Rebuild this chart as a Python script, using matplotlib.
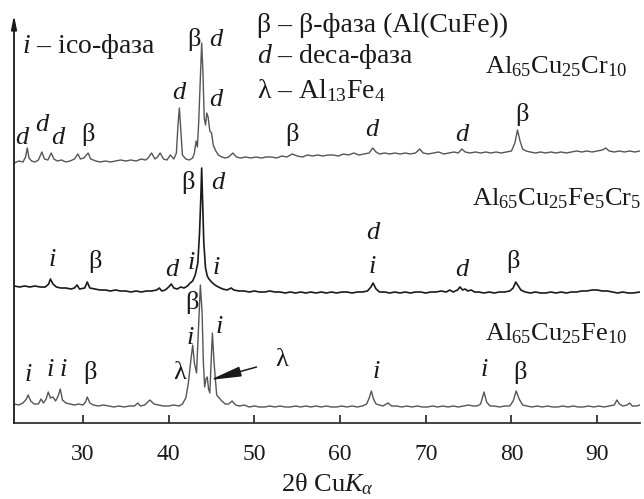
import numpy as np
import matplotlib
matplotlib.use("Agg")
import matplotlib.pyplot as plt

cr10_tt = [22.0, 22.5, 23.0, 23.3, 23.5, 23.7, 24.0, 24.4, 24.8, 25.2, 25.5, 25.9, 26.3, 26.6, 27.0,
           27.5, 28.0, 28.5, 29.0, 29.4, 29.7, 30.1, 30.6, 30.9, 31.5, 32.0, 32.6, 33.2, 33.8, 34.4,
           35.0, 35.6, 36.2, 36.8, 37.3, 37.6, 38.0, 38.4, 38.7, 39.0, 39.4, 39.8, 40.2, 40.6, 40.9,
           41.1, 41.25, 41.4, 41.6, 42.0, 42.4, 42.8, 43.0, 43.2, 43.35, 43.5, 43.7, 43.85, 44.0, 44.15,
           44.3, 44.45, 44.6, 44.8, 45.0, 45.2, 45.5, 45.8, 46.2, 46.6, 47.0, 47.5, 47.9, 48.4, 49.0,
           49.6, 50.2, 50.8, 51.4, 52.0, 52.6, 53.2, 53.8, 54.4, 55.0, 55.6, 56.2, 56.8, 57.4, 58.0,
           58.6, 59.2, 59.8, 60.4, 61.0, 61.6, 62.2, 62.8, 63.4, 63.8, 64.2, 64.6, 65.2, 65.8, 66.4,
           67.0, 67.6, 68.2, 68.8, 69.3, 69.7, 70.3, 70.9, 71.5, 72.1, 72.7, 73.3, 73.8, 74.2, 74.6,
           75.2, 75.8, 76.4, 77.0, 77.6, 78.2, 78.8, 79.4, 80.0, 80.4, 80.7, 81.0, 81.3, 81.7, 82.2,
           82.8, 83.4, 84.0, 84.6, 85.2, 85.8, 86.4, 87.0, 87.6, 88.2, 88.8, 89.4, 90.0, 90.6, 91.0,
           91.4, 92.0, 92.6, 93.2, 93.8, 94.4, 95.0]
cr10_int = [260, 262, 261, 266, 275, 265, 262, 261, 263, 271, 264, 263, 270, 264, 262,
            263, 261, 262, 264, 269, 264, 265, 270, 264, 262, 261, 262, 261, 262, 263,
            262, 263, 262, 264, 263, 265, 270, 264, 266, 270, 264, 263, 268, 264, 270,
            300, 315, 295, 268, 264, 263, 265, 270, 282, 276, 300, 345, 380, 350, 305,
            298, 310, 306, 292, 290, 278, 272, 268, 266, 265, 266, 270, 266, 265, 266,
            265, 266, 265, 266, 266, 265, 267, 266, 269, 267, 266, 268, 267, 268, 267,
            268, 268, 267, 269, 268, 270, 268, 269, 270, 275, 271, 269, 270, 269, 270,
            269, 270, 269, 270, 274, 270, 269, 270, 271, 269, 270, 271, 270, 274, 271,
            270, 271, 270, 271, 270, 271, 270, 271, 272, 280, 293, 282, 274, 272, 271,
            270, 271, 270, 271, 270, 271, 270, 271, 272, 271, 272, 271, 272, 273, 275,
            272, 271, 272, 271, 272, 271, 272]

fe5cr5_tt = [22.0, 22.6, 23.2, 23.8, 24.4, 25.0, 25.6, 26.0, 26.2, 26.5, 26.9, 27.4, 28.0, 28.6, 29.0,
             29.3, 29.6, 30.2, 30.5, 30.8, 31.4, 32.0, 32.6, 33.2, 33.8, 34.4, 35.0, 35.6, 36.2, 36.8,
             37.4, 38.0, 38.6, 38.9, 39.2, 39.6, 40.0, 40.3, 40.6, 41.0, 41.4, 41.8, 42.2, 42.5, 42.8,
             43.1, 43.4, 43.6, 43.75, 43.85, 43.95, 44.1, 44.3, 44.5, 44.7, 45.0, 45.4, 45.8, 46.3, 46.8,
             47.3, 47.6, 48.2, 48.8, 49.4, 50.0, 50.6, 51.2, 51.8, 52.4, 53.0, 53.6, 54.2, 54.8, 55.4,
             56.0, 56.6, 57.2, 57.8, 58.4, 59.0, 59.6, 60.2, 60.8, 61.4, 62.0, 62.6, 63.2, 63.6, 63.85,
             64.2, 64.6, 65.2, 65.8, 66.4, 67.0, 67.6, 68.2, 68.8, 69.4, 70.0, 70.6, 71.2, 71.8, 72.4,
             72.8, 73.2, 73.7, 74.0, 74.3, 74.6, 74.9, 75.3, 75.7, 76.2, 76.8, 77.4, 78.0, 78.6, 79.2,
             79.8, 80.2, 80.5, 80.8, 81.1, 81.6, 82.2, 82.8, 83.4, 84.0, 84.6, 85.2, 85.8, 86.4, 87.0,
             87.6, 88.2, 88.8, 89.4, 90.0, 90.6, 91.2, 91.8, 92.4, 93.0, 93.6, 94.2, 95.0]
fe5cr5_int = [137, 136, 137, 136, 137, 136, 136, 139, 144, 139, 136, 135, 135, 134, 135,
              138, 134, 135, 141, 135, 134, 133, 133, 132, 133, 132, 132, 131, 132, 131,
              132, 132, 133, 135, 132, 133, 136, 139, 135, 134, 136, 135, 137, 140, 142,
              148, 160, 190, 225, 255, 225, 180, 155, 147, 144, 141, 138, 136, 134, 133,
              135, 133, 132, 132, 131, 132, 131, 131, 132, 131, 131, 130, 131, 130, 131,
              130, 131, 130, 131, 130, 131, 130, 131, 131, 130, 131, 131, 132, 136, 140,
              134, 131, 131, 130, 131, 130, 131, 130, 131, 131, 130, 131, 131, 132, 131,
              133, 131, 133, 136, 133, 134, 132, 133, 131, 131, 130, 131, 130, 131, 131,
              132, 135, 141, 137, 133, 131, 130, 131, 130, 130, 131, 130, 131, 130, 131,
              131, 132, 132, 133, 133, 132, 132, 131, 130, 131, 130, 130, 131]

fe10_tt = [22.0, 22.5, 23.0, 23.4, 23.6, 23.9, 24.3, 24.8, 25.1, 25.4, 25.7, 25.95, 26.2, 26.5, 26.8,
           27.1, 27.35, 27.6, 28.0, 28.5, 29.0, 29.5, 30.0, 30.3, 30.5, 30.8, 31.2, 31.8, 32.4, 33.0,
           33.6, 34.2, 34.8, 35.4, 36.0, 36.4, 36.7, 37.2, 37.8, 38.3, 38.8, 39.4, 40.0, 40.6, 41.2,
           41.6, 42.0, 42.3, 42.55, 42.8, 43.0, 43.25, 43.45, 43.7, 43.9, 44.05, 44.2, 44.35, 44.5, 44.65,
           44.8, 44.95, 45.1, 45.3, 45.6, 45.9, 46.2, 46.6, 47.0, 47.4, 47.8, 48.3, 48.8, 49.4, 50.0,
           50.6, 51.2, 51.8, 52.4, 53.0, 53.6, 54.2, 54.8, 55.4, 56.0, 56.6, 57.2, 57.8, 58.4, 59.0,
           59.6, 60.2, 60.8, 61.4, 62.0, 62.6, 63.1, 63.4, 63.65, 63.9, 64.2, 64.6, 65.0, 65.6, 66.0,
           66.6, 67.2, 67.8, 68.4, 69.0, 69.6, 70.2, 70.8, 71.4, 72.0, 72.6, 73.2, 73.8, 74.4, 75.0,
           75.5, 76.0, 76.4, 76.8, 77.1, 77.5, 78.0, 78.6, 79.2, 79.8, 80.2, 80.55, 80.9, 81.3, 81.8,
           82.4, 83.0, 83.6, 84.2, 84.8, 85.4, 86.0, 86.6, 87.2, 87.8, 88.4, 89.0, 89.6, 90.2, 90.8,
           91.4, 92.0, 92.3, 92.6, 93.0, 93.5, 93.8, 94.1, 94.6, 95.0]
fe10_int = [19, 18, 20, 24, 28, 22, 19, 19, 24, 20, 24, 31, 25, 26, 22,
            27, 34, 23, 20, 19, 18, 19, 18, 21, 26, 20, 18, 17, 18, 17,
            16, 17, 16, 17, 17, 20, 17, 18, 23, 19, 18, 17, 17, 18, 17,
            19, 25, 40, 60, 78, 60, 50, 90, 138, 110, 60, 36, 44, 46, 34,
            30, 60, 90, 60, 28, 25, 22, 19, 19, 22, 18, 17, 18, 16, 17,
            16, 16, 17, 16, 17, 16, 16, 17, 16, 17, 16, 17, 16, 17, 16,
            16, 17, 16, 17, 16, 17, 19, 25, 32, 24, 19, 18, 17, 20, 17,
            17, 16, 17, 16, 17, 16, 16, 17, 16, 17, 16, 17, 16, 17, 18,
            17, 17, 19, 31, 21, 17, 17, 16, 17, 17, 22, 32, 24, 18, 17,
            16, 17, 16, 17, 16, 16, 17, 16, 17, 16, 16, 17, 16, 17, 16,
            17, 18, 23, 19, 17, 18, 20, 17, 17, 18]

# peak labels: (text, 2theta, height, italic)
peak_labels = [
    ("d", 22.9, 285, True), ("d", 25.2, 298, True), ("d", 27.1, 285, True), ("β", 30.6, 288, False),
    ("d", 41.2, 330, True), ("β", 43.0, 383, False), ("d", 45.5, 383, True), ("d", 45.5, 323, True),
    ("β", 54.4, 288, False), ("d", 63.7, 293, True), ("d", 74.2, 288, True), ("β", 81.2, 308, False),
    ("β", 42.25, 240, False), ("d", 45.75, 240, True), ("i", 26.4, 163, True), ("β", 31.4, 161, False),
    ("d", 40.4, 153, True), ("i", 42.6, 160, True), ("i", 45.5, 155, True), ("d", 63.8, 190, True),
    ("i", 63.8, 156, True), ("d", 74.2, 153, True), ("β", 80.2, 161, False),
    ("i", 23.6, 48, True), ("i", 26.15, 53, True), ("i", 27.7, 53, True), ("β", 30.8, 50, False),
    ("λ", 41.3, 50, False), ("i", 42.5, 85, True), ("β", 42.7, 120, False), ("i", 45.9, 96, True),
    ("i", 64.2, 51, True), ("i", 76.8, 53, True), ("β", 81.0, 51, False),
]

# === style ===
plt.rcParams["font.family"] = ["Liberation Serif", "DejaVu Serif"]
plt.rcParams["mathtext.fontset"] = "custom"
plt.rcParams["mathtext.rm"] = "Liberation Serif"
plt.rcParams["mathtext.it"] = "Liberation Serif:italic"

fig = plt.figure(figsize=(6.44, 4.99), dpi=100)
ax = fig.add_axes([14 / 644, 1 - 423 / 499, 626 / 644, 408 / 499])

ax.plot(cr10_tt, cr10_int, color="#555555", lw=1.0)
ax.plot(fe5cr5_tt, fe5cr5_int, color="#1a1a1a", lw=1.2)
ax.plot(fe10_tt, fe10_int, color="#555555", lw=1.0)

ax.set_xlim(21.95, 95.0)
ax.set_ylim(0, 408)
ax.set_yticks([])
ax.set_xticks([30, 40, 50, 60, 70, 80, 90])
for s in ["top", "right", "left"]:
    ax.spines[s].set_visible(False)
ax.spines["bottom"].set_color("#333333")
ax.spines["bottom"].set_linewidth(1.3)
ax.tick_params(axis="x", direction="in", length=6, width=1.3, color="#333333",
               labelsize=17, pad=15, labelcolor="#1a1a1a")
ax.set_xlabel(r"2θ Cu$K_\alpha$", fontsize=19, labelpad=5, color="#1a1a1a")

# y axis arrow
ax.annotate("", xy=(21.95, 408), xytext=(21.95, 0), xycoords="data",
            arrowprops=dict(arrowstyle="-|>,head_length=0.8,head_width=0.16",
                            color="#1a1a1a", lw=1.3, shrinkA=0, shrinkB=0),
            annotation_clip=False)

fs = 19
for txt, x, y, it in peak_labels:
    ax.text(x, y, txt, fontsize=fs, ha="center", va="center",
            style="italic" if it else "normal", color="#1a1a1a")

# arrow to lambda peak
ax.annotate("λ", xy=(44.8, 43), xytext=(53.2, 63), fontsize=fs, ha="center", va="center",
            color="#1a1a1a",
            arrowprops=dict(arrowstyle="-|>,head_length=1.0,head_width=0.16",
                            color="#1a1a1a", lw=1.1, shrinkA=12, shrinkB=0))

# legend texts
lfs = 20
ax.text(22.9, 370, r"$i$ – ico-фаза", fontsize=lfs, va="baseline", color="#1a1a1a")
ax.text(50.3, 391, "β – β-фаза (Al(CuFe))", fontsize=lfs, va="baseline", color="#1a1a1a")
ax.text(50.3, 360, r"$d$ – deca-фаза", fontsize=lfs, va="baseline", color="#1a1a1a")
ax.text(50.3, 325, r"λ – Al$_{13}$Fe$_4$", fontsize=lfs, va="baseline", color="#1a1a1a")

# sample names
ax.text(76.9, 350, r"Al$_{65}$Cu$_{25}$Cr$_{10}$", fontsize=fs, va="baseline", color="#1a1a1a")
ax.text(75.4, 218, r"Al$_{65}$Cu$_{25}$Fe$_5$Cr$_5$", fontsize=fs, va="baseline", color="#1a1a1a")
ax.text(76.9, 83, r"Al$_{65}$Cu$_{25}$Fe$_{10}$", fontsize=fs, va="baseline", color="#1a1a1a")

fig.savefig("out.png", dpi=100)
